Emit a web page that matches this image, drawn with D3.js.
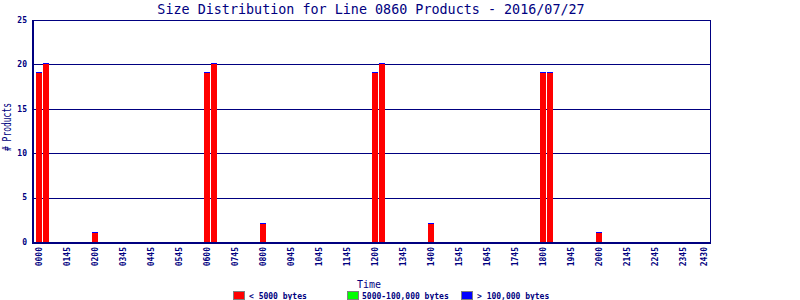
<!DOCTYPE html>
<html>
<head>
<meta charset="utf-8">
<script src="https://cdn.jsdelivr.net/npm/d3@7"></script>
<style>
  body { margin: 0; background: #fff; }
  svg { display: block; }
  text { font-family: "DejaVu Sans Mono", monospace; fill: #000080; }
  rect, line { shape-rendering: crispEdges; }
</style>
</head>
<body>
<div id="chart"></div>
<script>
// 15 minute slots, 0 = 00:00
const slots = d3.range(96);
const smallCounts = slots.map(() => 0);   // < 5000 bytes
const midCounts = slots.map(() => 0);     // 5000-100,000 bytes
const largeCounts = slots.map(() => 0);   // > 100,000 bytes
const barSlots = [0, 1, 8, 24, 25, 32, 48, 49, 56, 72, 73, 80];
const barValues = [19, 20, 1, 19, 20, 2, 19, 20, 2, 19, 19, 1];
barSlots.forEach((s, i) => { smallCounts[s] = barValues[i]; });

const tickSlots = [0, 4, 8, 12, 16, 20, 24, 28, 32, 36, 40, 44, 48, 52, 56, 60, 64, 68, 72, 76, 80, 84, 88, 92, 95];
const tickLabels = ["0000", "0145", "0200", "0345", "0445", "0545", "0600", "0745", "0800", "0945", "1045", "1145",
    "1200", "1345", "1400", "1545", "1645", "1745", "1800", "1945", "2000", "2145", "2245", "2345", "2430"];
const yTicks = [0, 5, 10, 15, 20, 25];

const seriesNames = ["< 5000 bytes", "5000-100,000 bytes", "> 100,000 bytes"];
const seriesColors = ["#ff0000", "#00ff00", "#0000ff"];

const W = 800, H = 300;
const plot = { left: 32, right: 710, top: 20, bottom: 242 };

const svg = d3.select("#chart").append("svg")
    .attr("width", W).attr("height", H);

const x = d3.scaleLinear().domain([-1, 95.9]).range([plot.left, plot.right]);
const y = d3.scaleLinear().domain([0, 25]).range([plot.bottom, plot.top]);

// title
svg.append("text")
    .attr("x", (plot.left + plot.right) / 2)
    .attr("y", 13.5)
    .attr("text-anchor", "middle")
    .style("font-size", "13.4px")
    .text("Size Distribution for Line 0860 Products - 2016/07/27");

// gridlines
svg.append("g").selectAll("line")
    .data(yTicks.filter(d => d > 0))
    .enter().append("line")
    .attr("x1", plot.left).attr("x2", plot.right)
    .attr("y1", d => Math.round(y(d)) + 0.5)
    .attr("y2", d => Math.round(y(d)) + 0.5)
    .attr("stroke", "#000080")
    .attr("stroke-width", 1);

// y tick labels
svg.append("g").selectAll("text")
    .data(yTicks)
    .enter().append("text")
    .attr("x", 27)
    .attr("y", d => y(d))
    .attr("dy", "0.35em")
    .attr("text-anchor", "end")
    .style("font-size", "8px")
    .style("font-weight", "bold")
    .text(d => d);

// stacked bars
const stack = d3.stack().keys([0, 1, 2]).value((d, k) => d[k]);
const rows = slots.map(s => [smallCounts[s], midCounts[s], largeCounts[s]]);
const layers = stack(rows);

const bars = svg.append("g");
layers.forEach((layer, k) => {
    layer.forEach((d, i) => {
        const total = rows[i][0] + rows[i][1] + rows[i][2];
        if (total <= 0) return;
        const y1 = Math.round(y(d[1]));
        const y0 = Math.round(y(d[0]));
        let h = y0 - y1;
        // top series always shows at least a 1px cap
        if (k === 2) h = Math.max(1, h);
        if (h <= 0) return;
        bars.append("rect")
            .attr("x", Math.round(x(i)) - 3)
            .attr("width", 6)
            .attr("y", y0 - h)
            .attr("height", h)
            .attr("fill", seriesColors[k]);
    });
});

// frame
svg.append("rect")
    .attr("x", plot.left + 0.5).attr("y", plot.top + 0.5)
    .attr("width", plot.right - plot.left).attr("height", plot.bottom - plot.top)
    .attr("fill", "none")
    .attr("stroke", "#000080")
    .attr("stroke-width", 1);
svg.append("line")
    .attr("x1", plot.left).attr("x2", plot.right + 1)
    .attr("y1", plot.bottom + 1).attr("y2", plot.bottom + 1)
    .attr("stroke", "#000080").attr("stroke-width", 2);
svg.append("line")
    .attr("x1", plot.left + 0.5).attr("x2", plot.left + 0.5)
    .attr("y1", plot.top).attr("y2", plot.bottom + 2)
    .attr("stroke", "#000080").attr("stroke-width", 2);

// x tick labels
svg.append("g").selectAll("text")
    .data(tickSlots)
    .enter().append("text")
    .attr("transform", d => "translate(" + x(d) + "," + 247 + ") rotate(-90)")
    .attr("dy", "0.35em")
    .attr("text-anchor", "end")
    .style("font-size", "8px")
    .style("font-weight", "bold")
    .text((d, i) => tickLabels[i]);

// axis titles
svg.append("text")
    .attr("x", 369)
    .attr("y", 288)
    .attr("text-anchor", "middle")
    .attr("textLength", 24)
    .attr("lengthAdjust", "spacingAndGlyphs")
    .style("font-size", "11px")
    .text("Time");

svg.append("text")
    .attr("transform", "translate(11,127) rotate(-90)")
    .attr("text-anchor", "middle")
    .attr("textLength", 48)
    .attr("lengthAdjust", "spacingAndGlyphs")
    .style("font-size", "11.5px")
    .text("# Products");

// legend
const legendX = [233, 347, 461];
const lg = svg.append("g").selectAll("g")
    .data(seriesNames)
    .enter().append("g")
    .attr("transform", (d, i) => "translate(" + legendX[i] + ",291)");
lg.append("rect")
    .attr("x", 0.5).attr("y", 0.5)
    .attr("width", 11).attr("height", 8)
    .attr("fill", (d, i) => seriesColors[i])
    .attr("stroke", "#808080")
    .attr("stroke-width", 1);
lg.append("text")
    .attr("x", (d, i) => i === 1 ? 15 : 16)
    .attr("y", 7.5)
    .style("font-size", "8px")
    .style("font-weight", "bold")
    .text(d => d);
</script>
</body>
</html>
